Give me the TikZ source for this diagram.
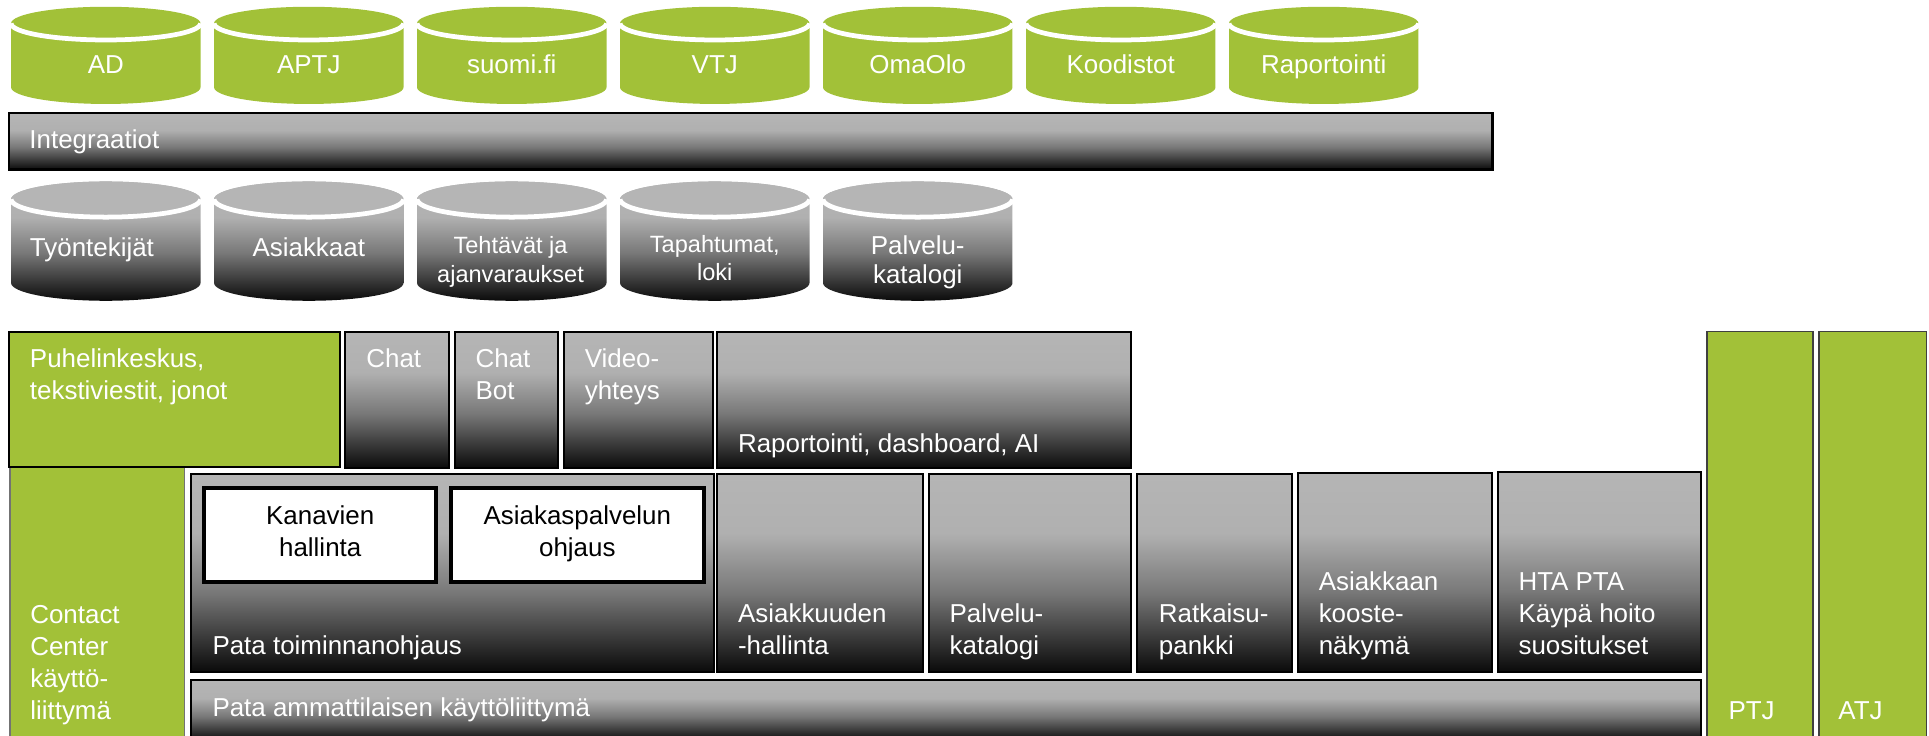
\documentclass[tikz,border=0pt]{standalone}
\usepackage{fontspec}
\setmainfont{Liberation Sans}
\usepackage{tikz}
\usepackage{color}
\definecolor{patagreen}{RGB}{162,193,56}
\pgfdeclareverticalshading{patashade}{100bp}{color(0bp)=(black!96); color(25bp)=(black!96); color(32.5bp)=(black!80); color(45bp)=(black!53); color(60bp)=(black!31); color(75bp)=(black!29); color(100bp)=(black!29)}

\begin{document}
\begin{tikzpicture}[x=0.02cm, y=0.02cm]
\tikzstyle{every node}+=[inner sep=0pt, text=white, font=\fontsize{12}{14.8}\selectfont]
\tikzstyle{greenbox}=[fill=patagreen, draw=black, line width=0.9pt]
\tikzstyle{greybox}=[shade, shading=patashade, draw=black, line width=0.9pt]
\tikzstyle{whitebox}=[fill=white, draw=black, line width=1.8pt]
\tikzstyle{rim}=[draw=white, line width=2.2pt]
\tikzstyle{cyltext}=[font=\fontsize{12}{13.4}\selectfont, align=center]
\tikzstyle{cylsmall}=[font=\fontsize{10.9}{13.2}\selectfont, align=center]
\tikzstyle{boxtext}=[align=left]
\useasboundingbox (0,0) rectangle (1568,-598);
\fill [patagreen] (9,-19) -- (9,-71) arc (180:360:77 and 13.5) -- (163,-19) arc (0:180:77 and 13.5) -- cycle;
\draw [rim] (9,-19) arc (180:360:77 and 13.5);
\node [cyltext, anchor=base] (ad) at (86,-59.6) {AD};
\fill [patagreen] (174,-19) -- (174,-71) arc (180:360:77 and 13.5) -- (328,-19) arc (0:180:77 and 13.5) -- cycle;
\draw [rim] (174,-19) arc (180:360:77 and 13.5);
\node [cyltext, anchor=base] (aptj) at (251,-59.6) {APTJ};
\fill [patagreen] (339,-19) -- (339,-71) arc (180:360:77 and 13.5) -- (493,-19) arc (0:180:77 and 13.5) -- cycle;
\draw [rim] (339,-19) arc (180:360:77 and 13.5);
\node [cyltext, anchor=base] (suomifi) at (416,-59.6) {suomi.fi};
\fill [patagreen] (504,-19) -- (504,-71) arc (180:360:77 and 13.5) -- (658,-19) arc (0:180:77 and 13.5) -- cycle;
\draw [rim] (504,-19) arc (180:360:77 and 13.5);
\node [cyltext, anchor=base] (vtj) at (581,-59.6) {VTJ};
\fill [patagreen] (669,-19) -- (669,-71) arc (180:360:77 and 13.5) -- (823,-19) arc (0:180:77 and 13.5) -- cycle;
\draw [rim] (669,-19) arc (180:360:77 and 13.5);
\node [cyltext, anchor=base] (omaolo) at (746,-59.6) {OmaOlo};
\fill [patagreen] (834,-19) -- (834,-71) arc (180:360:77 and 13.5) -- (988,-19) arc (0:180:77 and 13.5) -- cycle;
\draw [rim] (834,-19) arc (180:360:77 and 13.5);
\node [cyltext, anchor=base] (koodistot) at (911,-59.6) {Koodistot};
\fill [patagreen] (999,-19) -- (999,-71) arc (180:360:77 and 13.5) -- (1153,-19) arc (0:180:77 and 13.5) -- cycle;
\draw [rim] (999,-19) arc (180:360:77 and 13.5);
\node [cyltext, anchor=base] (raportointi) at (1076,-59.6) {Raportointi};
\draw [greybox, line width=1.2pt] (7.3,-92) rectangle (1213,-138);
\node [anchor=base west] (integraatiot) at (23.6,-120.6) {Integraatiot};
\shade [shading=patashade] (9,-162) -- (9,-230) arc (180:360:77 and 14.5) -- (163,-162) arc (0:180:77 and 14.5) -- cycle;
\fill [black!29] (86,-162) ellipse (77 and 14.5);
\draw [rim] (9,-162) arc (180:360:77 and 14.5);
\node [cyltext, anchor=base west] (tyontekijat) at (24,-208.6) {Työntekijät};
\shade [shading=patashade] (174,-162) -- (174,-230) arc (180:360:77 and 14.5) -- (328,-162) arc (0:180:77 and 14.5) -- cycle;
\fill [black!29] (251,-162) ellipse (77 and 14.5);
\draw [rim] (174,-162) arc (180:360:77 and 14.5);
\node [cyltext, anchor=base] (asiakkaat) at (251,-208.6) {Asiakkaat};
\shade [shading=patashade] (339,-162) -- (339,-230) arc (180:360:77 and 14.5) -- (493,-162) arc (0:180:77 and 14.5) -- cycle;
\fill [black!29] (416,-162) ellipse (77 and 14.5);
\draw [rim] (339,-162) arc (180:360:77 and 14.5);
\node [cylsmall, anchor=north] (tehtavat) at (415,-189.7) {\strut Tehtävät ja\\ajanvaraukset};
\shade [shading=patashade] (504,-162) -- (504,-230) arc (180:360:77 and 14.5) -- (658,-162) arc (0:180:77 and 14.5) -- cycle;
\fill [black!29] (581,-162) ellipse (77 and 14.5);
\draw [rim] (504,-162) arc (180:360:77 and 14.5);
\node [cylsmall, anchor=north] (tapahtumat) at (581,-188.4) {\strut Tapahtumat,\\loki};
\shade [shading=patashade] (669,-162) -- (669,-230) arc (180:360:77 and 14.5) -- (823,-162) arc (0:180:77 and 14.5) -- cycle;
\fill [black!29] (746,-162) ellipse (77 and 14.5);
\draw [rim] (669,-162) arc (180:360:77 and 14.5);
\node [cyltext, anchor=north] (palvelukatalogi) at (746,-190) {\strut Palvelu-\\katalogi};
\draw [fill=patagreen, draw=black!55, line width=0.8pt] (8.2,-378) rectangle (150,-602);
\draw [greenbox] (7.3,-269.6) rectangle (276,-379.7);
\node [boxtext, anchor=north west] (puhelin) at (24,-279.8) {\strut Puhelinkeskus,\\tekstiviestit, jonot};
\draw [greybox] (280.7,-269.6) rectangle (365,-380.5);
\node [anchor=north west] (chat) at (297.5,-279.8) {\strut Chat};
\draw [greybox] (370.2,-269.6) rectangle (453.8,-380.5);
\node [boxtext, anchor=north west] (chatbot) at (386.3,-279.8) {\strut Chat\\Bot};
\draw [greybox] (458.6,-269.6) rectangle (579.6,-380.5);
\node [boxtext, anchor=north west] (video) at (475,-279.8) {\strut Video-\\yhteys};
\draw [greybox] (583,-269.6) rectangle (919.4,-380.7);
\node [anchor=south west] (dashboard) at (599.6,-376.3) {Raportointi, dashboard, AI\strut};
\node [boxtext, anchor=south west] (contact) at (24.3,-593) {Contact\\Center\\käyttö-\\liittymä\strut};
\draw [greybox] (155.6,-385.3) rectangle (580,-546);
\node [anchor=south west] (toiminnan) at (172.4,-540) {Pata toiminnanohjaus\strut};
\draw [whitebox] (166,-396.8) rectangle (354.6,-472.8);
\node [align=center, text=black, anchor=north] (kanavat) at (260.3,-407.8) {\strut Kanavien\\hallinta};
\draw [whitebox] (366.5,-396.8) rectangle (572,-472.8);
\node [align=center, text=black, anchor=north] (ohjaus) at (469.3,-407.8) {\strut Asiakaspalvelun\\ohjaus};
\draw [greybox] (583,-385.3) rectangle (750.3,-546);
\node [boxtext, anchor=south west] (asiakkuus) at (599.6,-540.2) {Asiakkuuden\\-hallinta\strut};
\draw [greybox] (755.2,-385.3) rectangle (919.2,-546);
\node [boxtext, anchor=south west] (palvelu) at (771.6,-540.2) {Palvelu-\\katalogi\strut};
\draw [greybox] (924.5,-385.3) rectangle (1050,-546);
\node [boxtext, anchor=south west] (ratkaisu) at (941.7,-540.2) {Ratkaisu-\\pankki\strut};
\draw [greybox] (1055,-384.5) rectangle (1213,-546);
\node [boxtext, anchor=south west] (kooste) at (1071.6,-540.2) {Asiakkaan\\kooste-\\näkymä\strut};
\draw [greybox] (1217.5,-383.7) rectangle (1382.5,-546);
\node [boxtext, anchor=south west] (hta) at (1234,-540.2) {HTA PTA\\Käypä hoito\\suositukset\strut};
\draw [greybox] (155.6,-552.8) rectangle (1382.5,-602);
\node [anchor=south west] (ammattilainen) at (172.4,-590.3) {Pata ammattilaisen käyttöliittymä\strut};
\draw [fill=patagreen, draw=black!75, line width=0.7pt] (1387.6,-269.6) rectangle (1473.6,-602);
\node [anchor=south west] (ptj) at (1404.7,-593) {PTJ\strut};
\draw [fill=patagreen, draw=black!75, line width=0.7pt] (1478.6,-269.6) rectangle (1566,-602);
\node [anchor=south west] (atj) at (1494,-593) {ATJ\strut};
\end{tikzpicture}
\end{document}
